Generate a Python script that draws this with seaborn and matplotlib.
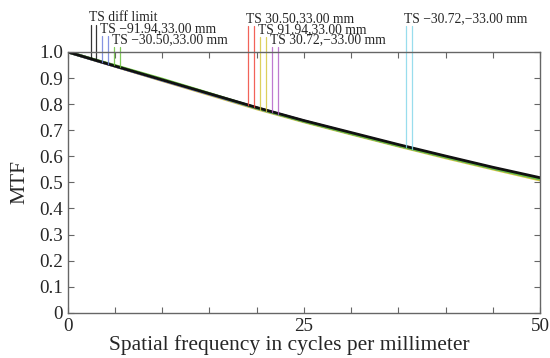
"""
MTF vs spatial frequency, diffraction limit and field points (T/S).
"""

import numpy as np
import pandas as pd
import matplotlib
matplotlib.use('Agg')
import matplotlib.pyplot as plt
import seaborn as sns

# spatial frequency samples (cycles/mm)
freq = [0, 5, 10, 15, 20, 25, 30, 35, 40, 45, 50]

# MTF, one list per field (T and S almost identical)
mtf_diff = [1.0, 0.946, 0.893, 0.840, 0.787, 0.737, 0.691, 0.645, 0.601, 0.558, 0.518]
mtf_m9194 = [1.0, 0.946, 0.893, 0.839, 0.785, 0.735, 0.688, 0.642, 0.598, 0.555, 0.514]
mtf_m3050 = [1.0, 0.948, 0.896, 0.841, 0.785, 0.734, 0.687, 0.641, 0.597, 0.554, 0.513]
mtf_p3050 = [1.0, 0.946, 0.892, 0.839, 0.785, 0.735, 0.688, 0.642, 0.598, 0.555, 0.514]
mtf_p9194 = [1.0, 0.945, 0.890, 0.836, 0.782, 0.732, 0.685, 0.639, 0.594, 0.551, 0.509]
mtf_p3072 = [1.0, 0.946, 0.892, 0.839, 0.785, 0.735, 0.688, 0.642, 0.598, 0.555, 0.514]
mtf_m3072 = [1.0, 0.946, 0.892, 0.839, 0.785, 0.735, 0.688, 0.642, 0.598, 0.555, 0.514]

field_labels = ['TS diff limit', 'TS \u221291.94,33.00 mm', 'TS \u221230.50,33.00 mm',
                'TS 30.50,33.00 mm', 'TS 91.94,33.00 mm', 'TS 30.72,\u221233.00 mm',
                'TS \u221230.72,\u221233.00 mm']
field_colors = ['#111111', '#7080dc', '#6cc43c', '#f0483c', '#d8c840', '#b464c8', '#86d8ea']

# label marker positions (cycles/mm), tangential and sagittal
marker_t = [2.45, 3.63, 4.90, 19.10, 20.40, 21.60, 35.80]
marker_s = [3.05, 4.30, 5.55, 19.75, 21.00, 22.30, 36.40]
marker_top = [1.103, 1.061, 1.019, 1.100, 1.057, 1.019, 1.100]

curves = [mtf_diff, mtf_m9194, mtf_m3050, mtf_p3050, mtf_p9194, mtf_p3072, mtf_m3072]

rows = []
for lab, vals in zip(field_labels, curves):
    for f, v in zip(freq, vals):
        rows.append({'freq': f, 'mtf': v, 'field': lab})
df = pd.DataFrame(rows)

sns.set_style('ticks')
plt.rcParams['font.family'] = ['Liberation Serif', 'DejaVu Serif']

fig = plt.figure(figsize=(5.5, 3.58), dpi=100)
ax = fig.add_axes([0.123, 0.126, 0.859, 0.729])

# draw order: yellow underneath, green near start, black on top further out
order = [4, 3, 5, 6, 1, 2, 0]
for i in order:
    sub = df[df['field'] == field_labels[i]]
    sns.lineplot(data=sub, x='freq', y='mtf', color=field_colors[i], lw=2.0,
                 ax=ax, legend=False, errorbar=None)

# vertical label markers + texts (Zemax style)
for i, lab in enumerate(field_labels):
    for mx in (marker_t[i], marker_s[i]):
        y0 = np.interp(mx, freq, curves[i])
        ax.plot([mx, mx], [y0, marker_top[i]], color=field_colors[i], lw=0.9,
                clip_on=False, alpha=0.85)
    ax.annotate(lab, xy=(marker_t[i], marker_top[i]), xytext=(-1.5, 0.5),
                textcoords='offset points', ha='left', va='bottom',
                fontsize=9.8, annotation_clip=False)

ax.set_xlim(0, 50)
ax.set_ylim(0, 1.0)
ax.set_xticks(np.arange(0, 51, 5))
ax.set_xticklabels(['0', '', '', '', '', '25', '', '', '', '', '50'])
ax.set_yticks(np.arange(0, 1.01, 0.1))
ax.set_yticklabels(['0'] + ['%.1f' % v for v in np.arange(0.1, 1.01, 0.1)])
ax.tick_params(direction='in', length=4, width=0.8, color='#666666',
               labelsize=13.7, pad=3.5, top=True, right=True)
for s in ax.spines.values():
    s.set_visible(True)
    s.set_color('#666666')
    s.set_linewidth(1.0)

ax.set_xlabel('Spatial frequency in cycles per millimeter', fontsize=15.5)
ax.set_ylabel('MTF', fontsize=15.5)
ax.xaxis.set_label_coords(0.47, -0.085)
ax.yaxis.set_label_coords(-0.08, 0.5)

fig.savefig('out.png', dpi=100)
plt.close(fig)
